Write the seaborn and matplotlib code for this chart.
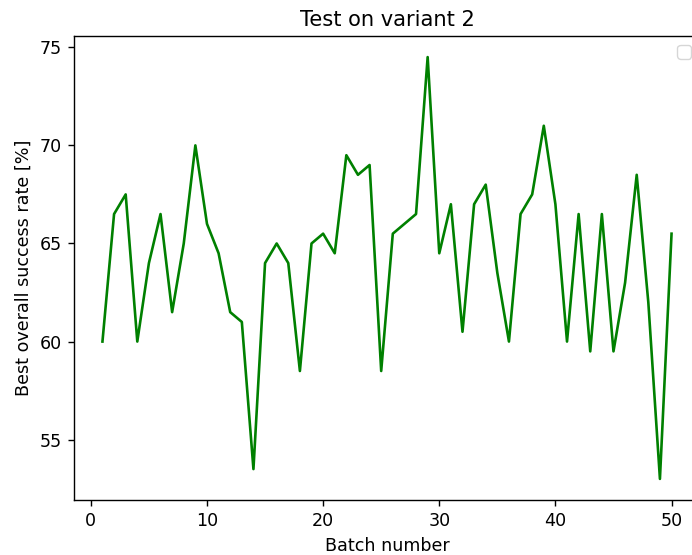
import matplotlib
matplotlib.use("Agg")
import matplotlib.pyplot as plt
import seaborn as sns
import pandas as pd

batches = list(range(1, 51))
success_rate = [
    60, 66.5, 67.5, 60, 64, 66.5, 61.5, 65, 70, 66,
    64.5, 61.5, 61, 53.5, 64, 65, 64, 58.5, 65, 65.5,
    64.5, 69.5, 68.5, 69, 58.5, 65.5, 66, 66.5, 74.5, 64.5,
    67, 60.5, 67, 68, 63.5, 60, 66.5, 67.5, 71, 67,
    60, 66.5, 59.5, 66.5, 59.5, 63, 68.5, 62, 53, 65.5,
]

df = pd.DataFrame({"batch": batches, "rate": success_rate})

s = 1.26
plt.rcParams.update({
    "font.size": 10 * s,
    "axes.linewidth": 0.8 * s,
    "xtick.major.size": 3.5 * s,
    "ytick.major.size": 3.5 * s,
    "xtick.major.width": 0.8 * s,
    "ytick.major.width": 0.8 * s,
    "xtick.major.pad": 3.5 * s,
    "ytick.major.pad": 3.5 * s,
    "axes.titlepad": 6 * s,
    "axes.labelpad": 4 * s,
})

fig = plt.figure(figsize=(6.92, 5.55), dpi=100)
ax = fig.add_axes([74 / 692, 55 / 555, 626 / 692, 464 / 555])
sns.lineplot(data=df, x="batch", y="rate", color="green", linewidth=1.5 * s, ax=ax)
ax.set_title("Test on variant 2")
ax.set_xlabel("Batch number")
ax.set_ylabel("Best overall success rate [%]")
ax.set_xticks([0, 10, 20, 30, 40, 50])
ax.set_yticks([55, 60, 65, 70, 75])
ax.legend(handles=[], loc="upper right")
fig.savefig("out.png", dpi=100)
